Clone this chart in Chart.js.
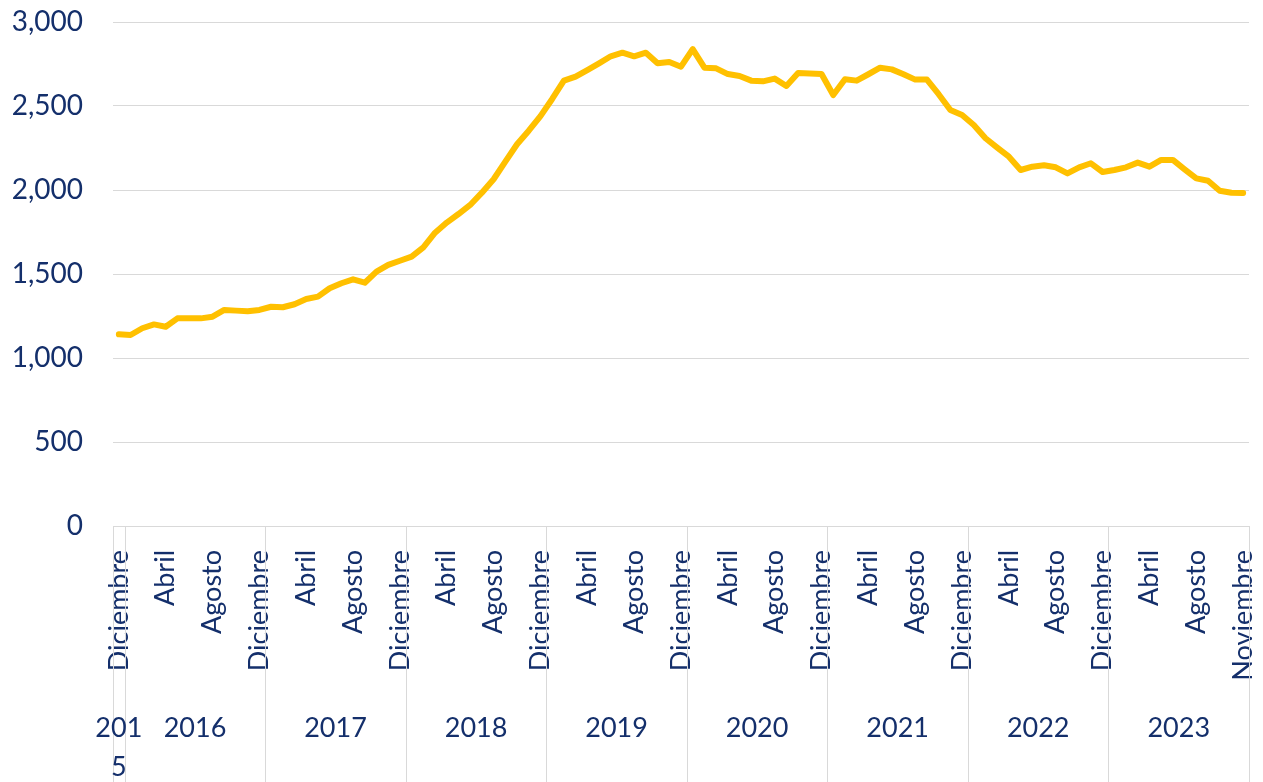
<!DOCTYPE html>
<html>
<head>
<meta charset="utf-8">
<script src="https://cdn.jsdelivr.net/npm/chart.js@4"></script>
<style>
  body { margin: 0; background: #fff; }
  #wrap { width: 1263px; height: 782px; position: relative; }
</style>
</head>
<body>
<div id="wrap"><canvas id="grafico"></canvas></div>
<script>
// etiquetas del eje (una cada 4 meses)
const etiquetasMes = [
  'Diciembre',
  'Abril', 'Agosto', 'Diciembre',
  'Abril', 'Agosto', 'Diciembre',
  'Abril', 'Agosto', 'Diciembre',
  'Abril', 'Agosto', 'Diciembre',
  'Abril', 'Agosto', 'Diciembre',
  'Abril', 'Agosto', 'Diciembre',
  'Abril', 'Agosto', 'Diciembre',
  'Abril', 'Agosto', 'Noviembre'
];
const anios = ['2015', '2016', '2017', '2018', '2019', '2020', '2021', '2022', '2023'];
const mesesPorAnio = [1, 12, 12, 12, 12, 12, 12, 12, 12];

const valores = [
  1141,
  1137, 1177, 1200, 1186, 1236, 1237, 1236, 1246, 1286, 1282, 1278, 1286,
  1305, 1302, 1320, 1351, 1365, 1415, 1445, 1468, 1448, 1514, 1554, 1579,
  1603, 1659, 1746, 1806, 1857, 1911, 1984, 2064, 2169, 2272, 2353, 2440,
  2542, 2651, 2675, 2714, 2754, 2796, 2817, 2796, 2817, 2754, 2762, 2734,
  2839, 2728, 2724, 2690, 2679, 2651, 2647, 2663, 2619, 2696, 2693, 2690,
  2565, 2659, 2651, 2689, 2728, 2718, 2689, 2657, 2657, 2570, 2476, 2446,
  2387, 2308, 2252, 2198, 2119, 2139, 2147, 2135, 2099, 2135, 2159, 2107,
  2119, 2135, 2163, 2139, 2179, 2179, 2123, 2069, 2055, 1996, 1984, 1982
];

const azul = '#142f6b';
const gris = '#d9d9d9';
const fuente = 'Lato, "Open Sans", sans-serif';

// categorias: solo cada 4 meses lleva texto
const categorias = valores.map((v, i) => i % 4 === 0 ? etiquetasMes[i / 4] : '');

// quita el relleno automatico de las escalas para fijar el area del grafico
const sinRelleno = s => {
  s.paddingTop = 0; s.paddingBottom = 0;
  s.paddingLeft = 0; s.paddingRight = 0;
};

// dibuja separadores de años y los años debajo de los meses
const ejeAnios = {
  id: 'ejeAnios',
  afterDraw(chart) {
    const x = chart.scales.x;
    const c = chart.ctx;
    const medio = (x.getPixelForValue(1) - x.getPixelForValue(0)) / 2;
    c.save();
    c.strokeStyle = gris;
    c.lineWidth = 1;
    c.fillStyle = azul;
    c.font = '27px ' + fuente;
    c.textAlign = 'center';
    c.textBaseline = 'middle';
    let inicio = 0;
    const linea = px => {
      c.beginPath();
      c.moveTo(Math.round(px) + 0.5, x.top);
      c.lineTo(Math.round(px) + 0.5, chart.height);
      c.stroke();
    };
    linea(x.getPixelForValue(0) - medio);
    anios.forEach((anio, k) => {
      const fin = inicio + mesesPorAnio[k] - 1;
      const izq = x.getPixelForValue(inicio) - medio;
      const der = x.getPixelForValue(fin) + medio;
      linea(der);
      const cx = (izq + der) / 2;
      if (c.measureText(anio).width > der - izq + 30) {
        c.fillText(anio.slice(0, 3), cx, 728);
        c.fillText(anio.slice(3), cx, 767);
      } else {
        c.fillText(anio, cx, 728);
      }
      inicio = fin + 1;
    });
    c.restore();
  }
};

new Chart(document.getElementById('grafico'), {
  type: 'line',
  data: {
    labels: categorias,
    datasets: [{
      data: valores,
      borderColor: '#ffc000',
      borderWidth: 6,
      pointRadius: 0,
      tension: 0,
      borderJoinStyle: 'round',
      borderCapStyle: 'round',
      fill: false
    }]
  },
  options: {
    responsive: true,
    maintainAspectRatio: false,
    animation: false,
    layout: { padding: { top: 22, right: 14, left: 0, bottom: 0 } },
    plugins: {
      legend: { display: false },
      tooltip: { enabled: false }
    },
    scales: {
      x: {
        offset: true,
        grid: { display: false },
        border: { display: false },
        ticks: {
          autoSkip: false,
          minRotation: 90,
          maxRotation: 90,
          padding: 16,
          color: azul,
          font: { family: fuente, size: 27 }
        },
        afterFit: s => { s.height = 256; sinRelleno(s); }
      },
      y: {
        min: 0,
        max: 3000,
        grid: { color: gris, lineWidth: 1, drawTicks: false },
        border: { display: false },
        ticks: {
          stepSize: 500,
          padding: 30,
          color: azul,
          font: { family: fuente, size: 28 },
          callback: v => v.toLocaleString('en-US')
        },
        afterFit: s => { s.width = 113; sinRelleno(s); }
      }
    }
  },
  plugins: [ejeAnios]
});
</script>
</body>
</html>
